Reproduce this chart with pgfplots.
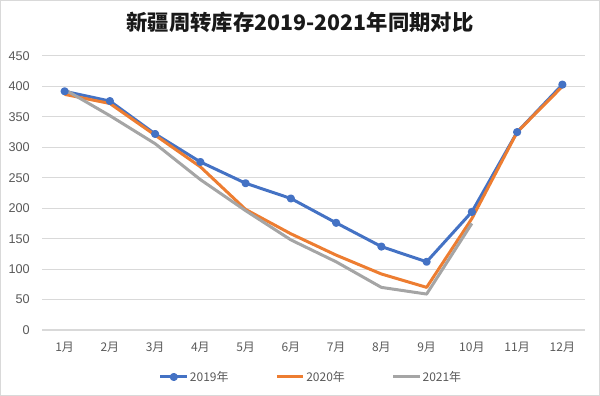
\documentclass[border=0pt]{standalone}
\usepackage{pgfplots}
\pgfplotsset{compat=1.18}
\usepackage{fontspec}
\setmainfont{Liberation Sans}
\newfontfamily\cjk{Noto Sans CJK SC}
\definecolor{c19}{HTML}{4472C4}
\definecolor{c20}{HTML}{ED7D31}
\definecolor{c21}{HTML}{A5A5A5}
\definecolor{gridc}{HTML}{D9D9D9}
\definecolor{txt}{HTML}{595959}
\begin{document}
\begin{tikzpicture}
\path[use as bounding box] (0pt,0pt) rectangle (450pt,297pt);
\draw[color=gridc, line width=0.75pt] (0.375pt,0.375pt) rectangle (449.625pt,296.625pt);
\node[font=\cjk\bfseries\fontsize{16}{18}\selectfont, text=black!90] at (225pt,280.5pt) {新疆周转库存2019-2021年同期对比};
\begin{axis}[
  at={(31.5pt,49.5pt)}, anchor=south west,
  scale only axis, width=407.25pt, height=205.5pt,
  xmin=0.5, xmax=12.5, ymin=0, ymax=450,
  xtick={1,...,12},
  xticklabels={1月,2月,3月,4月,5月,6月,7月,8月,9月,10月,11月,12月},
  ytick={0,50,...,450},
  ymajorgrids, major grid style={gridc, line width=0.75pt},
  axis line style={draw=none},
  major tick length=0pt,
  tick style={draw=none},
  /pgf/number format/assume math mode=true,
  yticklabel style={font=\fontsize{9.5}{11}\selectfont, text=txt, anchor=east, inner sep=0pt, xshift=-9pt},
  xticklabel style={font=\cjk\fontsize{9}{11}\selectfont, text=txt, anchor=north, inner sep=0pt, yshift=-9pt},
  legend columns=3,
  legend style={at={(0.495,-0.1715)}, anchor=center, draw=none, fill=none,
    font=\cjk\fontsize{9}{11}\selectfont, text=txt,
    nodes={inner sep=1pt},
    /tikz/every even column/.append style={column sep=34pt}},
  legend image code/.code={\draw[mark repeat=2,mark phase=2,#1] plot coordinates {(0pt,0pt) (10pt,0pt) (20pt,0pt)};},
  every axis plot/.append style={line width=2.25pt, line join=round},
]
\addplot[c19, mark=*, mark size=1.9pt, mark options={solid}] coordinates {
(1,392) (2,376) (3,322) (4,276) (5,241) (6,216) (7,176) (8,137) (9,112) (10,194) (11,325) (12,403)};
\addlegendentry{2019年}
\addplot[c20] coordinates {
(1,387) (2,372) (3,320) (4,268) (5,198) (6,158) (7,123) (8,92) (9,70) (10,183) (11,325) (12,400)};
\addlegendentry{2020年}
\addplot[c21] coordinates {
(1,395) (2,352) (3,306) (4,247) (5,196) (6,148) (7,112) (8,70) (9,59) (10,175)};
\addlegendentry{2021年}
\end{axis}
\end{tikzpicture}
\end{document}
